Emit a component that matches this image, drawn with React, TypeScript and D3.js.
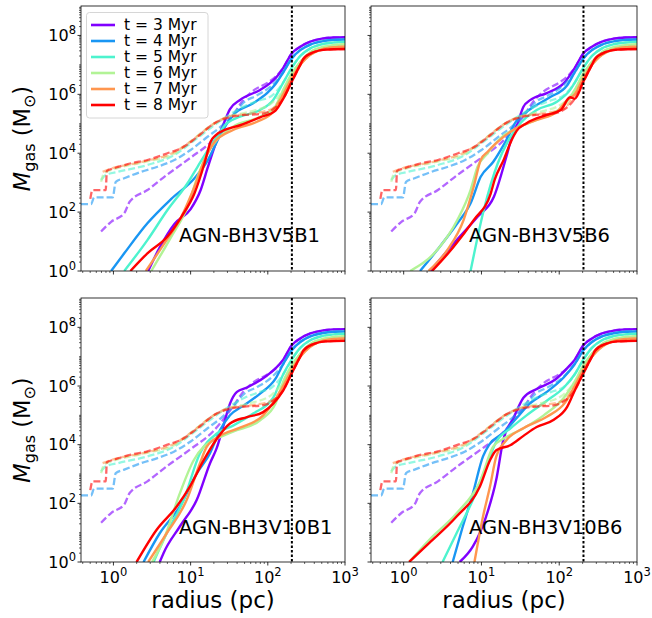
import React, { useEffect, useRef } from "react";
import * as d3 from "d3";

// snapshot times, colours from the "rainbow" colormap
const times = [3, 4, 5, 6, 7, 8];
const colors = ["#8000ff", "#1996f3", "#4df3ce", "#b2f396", "#ff964f", "#ff0000"];
const runNames = ["AGN-BH3V5B1", "AGN-BH3V5B6", "AGN-BH3V10B1", "AGN-BH3V10B6"];

const xTicks = [1, 10, 100, 1000];
const yTicks = [1, 1e2, 1e4, 1e6, 1e8];
const rMark = 205; // pc, dotted line

// every profile point is [log10 r (pc), log10 M (Msun)]
// outer part (r > 150 pc), same in all runs
const outer = [
  [[2.2, 6.9], [2.31, 7.39], [2.42, 7.62], [2.55, 7.79], [2.7, 7.89], [2.85, 7.93], [3.0, 7.94]],
  [[2.2, 6.75], [2.31, 7.22], [2.42, 7.5], [2.55, 7.69], [2.7, 7.8], [2.85, 7.85], [3.0, 7.86]],
  [[2.2, 6.4], [2.31, 6.9], [2.42, 7.3], [2.55, 7.56], [2.7, 7.7], [2.85, 7.76], [3.0, 7.78]],
  [[2.2, 6.15], [2.31, 6.7], [2.42, 7.1], [2.55, 7.43], [2.7, 7.6], [2.85, 7.67], [3.0, 7.7]],
  [[2.2, 6.0], [2.31, 6.55], [2.42, 7.0], [2.55, 7.34], [2.7, 7.53], [2.85, 7.6], [3.0, 7.62]],
  [[2.2, 5.85], [2.31, 6.43], [2.42, 7.0], [2.46, 7.2], [2.59, 7.43], [2.75, 7.52], [3.0, 7.54]],
];

// dashed profiles, same in all runs
const dashed = [
  [[-0.16, 1.34], [-0.03, 1.67], [0.14, 1.96], [0.21, 2.35], [0.44, 2.75], [0.7, 3.28], [0.88, 3.62], [1.0, 3.85], [1.29, 4.45], [1.45, 4.95], [1.55, 5.3], [1.68, 5.8], [1.8, 6.1], [2.0, 6.4], [2.08, 6.55]],
  [[-0.42, 2.27], [-0.29, 2.27], [-0.25, 2.5], [-0.01, 2.5], [0.03, 3.03], [0.14, 3.15], [0.36, 3.37], [0.57, 3.54], [0.79, 3.77], [1.0, 4.11], [1.22, 4.56], [1.39, 4.9], [1.55, 5.3], [1.7, 5.75], [1.85, 5.95], [2.05, 6.3]],
  [[-0.16, 3.09], [-0.1, 3.26], [0.06, 3.37], [0.44, 3.6], [0.79, 3.94], [1.0, 4.34], [1.31, 4.96], [1.5, 5.3], [1.7, 5.6], [1.9, 5.8], [2.05, 5.95]],
  [[-0.16, 3.03], [-0.12, 3.32], [0.0, 3.45], [0.4, 3.7], [0.8, 4.0], [1.0, 4.4], [1.3, 5.0], [1.5, 5.25], [1.75, 5.4], [2.05, 5.7]],
  [[-0.14, 3.37], [0.0, 3.5], [0.4, 3.72], [0.8, 4.05], [1.0, 4.4], [1.3, 5.0], [1.5, 5.25], [1.8, 5.35], [2.05, 5.5]],
  [[-0.3, 2.45], [-0.27, 2.75], [-0.1, 2.75], [-0.085, 3.4], [0.01, 3.49], [0.23, 3.66], [0.44, 3.77], [0.7, 4.0], [0.88, 4.17], [1.09, 4.56], [1.31, 5.02], [1.5, 5.22], [1.7, 5.3], [1.9, 5.33], [2.07, 5.5]],
];

const solidV5B1 = [
  [[0.45, 0], [0.6, 0.8], [0.79, 1.6], [1.0, 2.1], [1.13, 2.75], [1.22, 3.5], [1.31, 4.22], [1.42, 4.95], [1.51, 5.5], [1.64, 5.81], [1.9, 6.15], [2.03, 6.38], [2.1, 6.55]],
  [[-0.03, 0], [0.14, 0.6], [0.44, 1.62], [0.75, 2.45], [1.05, 3.15], [1.22, 3.75], [1.38, 4.6], [1.55, 5.3], [1.81, 5.7], [1.99, 6.04], [2.1, 6.35]],
  [[0.14, 0], [0.44, 1.05], [0.7, 2.07], [0.96, 2.98], [1.09, 3.54], [1.31, 4.45], [1.47, 5.02], [1.64, 5.24], [1.9, 5.47], [2.07, 5.81]],
  [[0.49, 0], [0.75, 1.17], [0.96, 2.18], [1.09, 3.2], [1.22, 4.0], [1.34, 4.45], [1.55, 4.9], [1.9, 5.24], [2.1, 5.6]],
  [[0.42, 0], [0.66, 0.94], [0.88, 1.84], [1.05, 2.86], [1.18, 3.77], [1.3, 4.35], [1.55, 4.79], [1.86, 5.07], [2.07, 5.41]],
  [[0.22, 0], [0.44, 0.6], [0.7, 1.17], [0.88, 1.84], [1.05, 2.64], [1.18, 3.66], [1.26, 4.4], [1.32, 4.6], [1.45, 4.8], [1.64, 4.95], [1.9, 5.22], [2.1, 5.45]],
];

const solidV5B6 = [
  [[0.34, 0], [0.645, 0.94], [0.95, 1.84], [1.16, 2.52], [1.32, 3.88], [1.38, 4.45], [1.45, 4.9], [1.54, 5.58], [1.63, 5.81], [1.84, 6.04], [2.06, 6.38]],
  [[0.21, 0], [0.43, 0.71], [0.69, 1.62], [0.86, 2.3], [0.99, 3.2], [1.15, 3.7], [1.29, 4.3], [1.45, 5.1], [1.63, 5.5], [1.88, 5.9], [2.1, 6.3]],
  [[0.86, 0], [1.03, 2.07], [1.21, 3.66], [1.34, 4.4], [1.5, 5.02], [1.71, 5.47], [1.97, 5.75], [2.14, 6.15]],
  [[0.084, 0], [0.43, 0.71], [0.69, 1.73], [0.86, 2.75], [0.95, 3.54], [1.08, 4.0], [1.24, 4.5], [1.5, 4.9], [1.8, 5.24], [2.05, 5.6]],
  [[0.32, 0], [0.56, 0.71], [0.77, 1.73], [0.9, 2.86], [0.99, 3.77], [1.08, 4.05], [1.19, 4.34], [1.41, 4.79], [1.71, 5.13], [1.97, 5.41], [2.1, 5.8]],
  [[0.365, 0], [0.645, 0.83], [0.9, 1.73], [1.12, 2.64], [1.17, 3.1], [1.29, 3.8], [1.38, 4.4], [1.45, 4.75], [1.58, 5.02], [1.84, 5.3], [2.02, 5.47], [2.14, 5.9]],
];

const solidV10B1 = [
  [[0.6, 0], [0.65, 0.31], [0.86, 1.21], [1.08, 2.12], [1.25, 3.36], [1.34, 3.9], [1.42, 4.6], [1.51, 5.4], [1.6, 5.8], [1.73, 5.95], [1.99, 6.36], [2.1, 6.6]],
  [[0.39, 0], [0.6, 0.98], [0.86, 1.89], [1.08, 3.02], [1.25, 3.7], [1.38, 4.49], [1.51, 5.0], [1.69, 5.34], [1.9, 5.74], [2.1, 6.25]],
  [[0.52, 0], [0.69, 0.98], [0.91, 2.12], [1.12, 3.7], [1.34, 4.38], [1.55, 4.65], [1.81, 5.06], [2.07, 5.6]],
  [[0.5, 0], [0.65, 0.76], [0.86, 2.34], [1.04, 3.47], [1.17, 3.93], [1.3, 4.15], [1.55, 4.44], [1.9, 4.83], [2.1, 5.4]],
  [[0.45, 0], [0.69, 0.98], [0.95, 2.12], [1.12, 3.36], [1.21, 3.93], [1.38, 4.3], [1.64, 4.58], [1.94, 5.0], [2.1, 5.55]],
  [[0.3, 0], [0.56, 1.1], [0.82, 1.89], [0.99, 2.57], [1.17, 3.47], [1.34, 4.2], [1.51, 4.72], [1.73, 4.94], [1.94, 5.11], [2.07, 5.4]],
];

const solidV10B6 = [
  [[0.72, 0], [0.89, 0.53], [1.06, 1.55], [1.19, 2.8], [1.28, 4.15], [1.41, 4.9], [1.54, 5.6], [1.71, 5.9], [1.95, 6.22], [2.1, 6.6]],
  [[0.63, 0], [0.76, 1.21], [0.89, 2.34], [1.02, 3.6], [1.1, 4.0], [1.28, 4.4], [1.45, 4.9], [1.62, 5.4], [1.84, 5.8], [2.06, 6.3]],
  [[0.5, 0], [0.68, 0.98], [0.89, 2.12], [1.06, 3.25], [1.19, 4.1], [1.37, 4.55], [1.58, 5.0], [1.84, 5.5], [2.06, 5.95]],
  [[0.07, 0], [0.33, 0.76], [0.68, 1.66], [0.98, 2.74], [1.15, 3.93], [1.28, 4.2], [1.5, 4.5], [1.8, 5.0], [2.06, 5.6]],
  [[0.91, 0], [1.02, 1.55], [1.11, 2.57], [1.19, 3.59], [1.32, 4.15], [1.55, 4.58], [1.84, 4.95], [2.08, 5.45]],
  [[0.07, 0], [0.33, 0.65], [0.68, 1.55], [0.98, 2.57], [1.11, 3.47], [1.19, 3.81], [1.37, 3.98], [1.54, 4.3], [1.71, 4.6], [1.93, 4.85], [2.1, 5.28]],
];

const FONT = "DejaVu Sans, sans-serif";

const App = () => {
  const ref = useRef<SVGSVGElement>(null);

  useEffect(() => {
    const svg = d3.select(ref.current);
    svg.selectAll("*").remove();

    const panels = [
      { name: runNames[0], solid: solidV5B1, left: 81, right: 345, top: 6, bottom: 271, yLab: true, xLab: false },
      { name: runNames[1], solid: solidV5B6, left: 371, right: 637, top: 6, bottom: 271, yLab: false, xLab: false },
      { name: runNames[2], solid: solidV10B1, left: 81, right: 345, top: 298, bottom: 562, yLab: true, xLab: true },
      { name: runNames[3], solid: solidV10B6, left: 371, right: 637, top: 298, bottom: 562, yLab: false, xLab: true },
    ];

    // minor tick positions
    const xMinor: number[] = [];
    [-1, 0, 1, 2].forEach((n) => {
      for (let k = 2; k <= 9; k++) {
        const v = k * 10 ** n;
        if (v >= 0.38 && v <= 1000) xMinor.push(v);
      }
    });
    const yMinor: number[] = [];
    for (let n = 0; n <= 8; n++) {
      if (n % 2 === 1) yMinor.push(10 ** n);
      for (let k = 2; k <= 9; k++) yMinor.push(k * 10 ** n);
    }

    panels.forEach((p, pi) => {
      const x = d3.scaleLog().domain([0.38, 1000]).range([p.left, p.right]);
      const y = d3.scaleLog().domain([1, 1e9]).range([p.bottom, p.top]);
      const g = svg.append("g");

      const clipId = `clip-${pi}`;
      g.append("clipPath")
        .attr("id", clipId)
        .append("rect")
        .attr("x", p.left)
        .attr("y", p.top)
        .attr("width", p.right - p.left)
        .attr("height", p.bottom - p.top);

      const line = d3
        .line<number[]>()
        .x((d) => x(10 ** d[0]))
        .y((d) => y(10 ** d[1]))
        .curve(d3.curveMonotoneX);

      const plot = g.append("g").attr("clip-path", `url(#${clipId})`);
      times.forEach((t, i) => {
        plot
          .append("path")
          .attr("d", line(p.solid[i].concat(outer[i])))
          .attr("fill", "none")
          .attr("stroke", colors[i])
          .attr("stroke-width", 2.4);
        plot
          .append("path")
          .attr("d", line(dashed[i].concat(outer[i])))
          .attr("fill", "none")
          .attr("stroke", colors[i])
          .attr("stroke-width", 2.3)
          .attr("stroke-dasharray", "7,3")
          .attr("opacity", 0.6);
      });

      // dotted vertical line
      g.append("line")
        .attr("x1", x(rMark))
        .attr("x2", x(rMark))
        .attr("y1", p.top)
        .attr("y2", p.bottom)
        .attr("stroke", "#000")
        .attr("stroke-width", 2)
        .attr("stroke-dasharray", "2.5,2");

      // run name
      g.append("text")
        .attr("x", p.left + 98)
        .attr("y", p.top + 236)
        .attr("font-family", FONT)
        .attr("font-size", 19.5)
        .attr("fill", "#000")
        .text(p.name);

      // ticks
      const ax = g.append("g").attr("stroke", "#000");
      xTicks.forEach((v) => {
        ax.append("line").attr("x1", x(v)).attr("x2", x(v)).attr("y1", p.bottom).attr("y2", p.bottom + 3.5).attr("stroke-width", 0.8);
      });
      xMinor.forEach((v) => {
        ax.append("line").attr("x1", x(v)).attr("x2", x(v)).attr("y1", p.bottom).attr("y2", p.bottom + 2).attr("stroke-width", 0.6);
      });
      yTicks.forEach((v) => {
        ax.append("line").attr("x1", p.left - 3.5).attr("x2", p.left).attr("y1", y(v)).attr("y2", y(v)).attr("stroke-width", 0.8);
      });
      yMinor.forEach((v) => {
        ax.append("line").attr("x1", p.left - 2).attr("x2", p.left).attr("y1", y(v)).attr("y2", y(v)).attr("stroke-width", 0.6);
      });

      // frame
      g.append("rect")
        .attr("x", p.left)
        .attr("y", p.top)
        .attr("width", p.right - p.left)
        .attr("height", p.bottom - p.top)
        .attr("fill", "none")
        .attr("stroke", "#000")
        .attr("stroke-width", 0.8);

      if (p.yLab) {
        yTicks.forEach((v) => {
          const tx = g
            .append("text")
            .attr("x", p.left - 5)
            .attr("y", y(v) + 5.8)
            .attr("text-anchor", "end")
            .attr("font-family", FONT)
            .attr("font-size", 16)
            .attr("fill", "#000");
          tx.append("tspan").text("10");
          tx.append("tspan").attr("dy", -7).attr("font-size", 11.5).text(String(Math.round(Math.log10(v))));
        });
        const cy = (p.top + p.bottom) / 2;
        const lab = g
          .append("text")
          .attr("transform", `translate(30,${cy}) rotate(-90)`)
          .attr("text-anchor", "middle")
          .attr("font-family", FONT)
          .attr("font-size", 22.5)
          .attr("fill", "#000");
        lab.append("tspan").attr("font-style", "italic").text("M");
        lab.append("tspan").attr("font-size", 16).attr("dy", 4.5).text("gas");
        lab.append("tspan").attr("dy", -4.5).text("\u00a0(M");
        lab.append("tspan").attr("font-size", 16).attr("dy", 4.5).text("\u2299");
        lab.append("tspan").attr("dy", -4.5).text(")");
      }

      if (p.xLab) {
        xTicks.forEach((v) => {
          const tx = g
            .append("text")
            .attr("x", x(v))
            .attr("y", p.bottom + 21)
            .attr("text-anchor", "middle")
            .attr("font-family", FONT)
            .attr("font-size", 16)
            .attr("fill", "#000");
          tx.append("tspan").text("10");
          tx.append("tspan").attr("dy", -7).attr("font-size", 11.5).text(String(Math.round(Math.log10(v))));
        });
        g.append("text")
          .attr("x", (p.left + p.right) / 2)
          .attr("y", p.bottom + 46)
          .attr("text-anchor", "middle")
          .attr("font-family", FONT)
          .attr("font-size", 23)
          .attr("fill", "#000")
          .text("radius (pc)");
      }

      if (pi === 0) {
        // legend
        const lg = g.append("g");
        lg.append("rect")
          .attr("x", 86.5)
          .attr("y", 12.5)
          .attr("width", 121.5)
          .attr("height", 105.5)
          .attr("rx", 3)
          .attr("fill", "#fff")
          .attr("fill-opacity", 0.8)
          .attr("stroke", "#ccc")
          .attr("stroke-width", 0.8);
        times.forEach((t, i) => {
          const ry = 25 + i * 16;
          lg.append("line")
            .attr("x1", 91)
            .attr("x2", 115)
            .attr("y1", ry)
            .attr("y2", ry)
            .attr("stroke", colors[i])
            .attr("stroke-width", 2.6);
          lg.append("text")
            .attr("x", 124)
            .attr("y", ry + 5.3)
            .attr("font-family", FONT)
            .attr("font-size", 15.5)
            .attr("fill", "#000")
            .text(`t = ${t} Myr`);
        });
      }
    });
  }, []);

  return (
    <svg
      ref={ref}
      width={652}
      height={618}
      style={{ position: "absolute", left: 0, top: 0, background: "#fff" }}
    />
  );
};

export default App;
